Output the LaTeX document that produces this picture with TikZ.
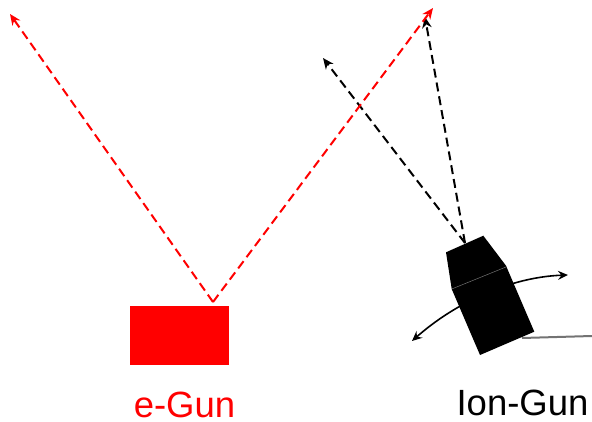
\documentclass[tikz,border=0pt]{standalone}
\usepackage{fontspec}
\setmainfont{Liberation Sans}
\usetikzlibrary{arrows.meta}
\definecolor{gunred}{RGB}{255,0,0}
\tikzset{
  beam/.style={dash pattern=on 9pt off 5pt,line width=2pt,-{Stealth[length=11pt,width=9.5pt,inset=3.5pt]}},
  turn/.style={line width=1.6pt,black,{Stealth[length=10pt,width=9pt,inset=3.5pt]}-{Stealth[length=10pt,width=9pt,inset=3.5pt]}},
  lab/.style={inner sep=0pt,anchor=base,font=\fontsize{36.5pt}{40pt}\selectfont}
}
\begin{document}
\begin{tikzpicture}[x=1pt,y=-1pt]
\useasboundingbox (0,0) rectangle (592,421);
\coordinate (eo) at (213,302);
\coordinate (e1) at (10,14);
\coordinate (e2) at (433,8);
\coordinate (io) at (465,243);
\coordinate (i1) at (323,58);
\coordinate (i2) at (425,17);
\coordinate (ta) at (412,341);
\coordinate (tb) at (568,275);
\coordinate (ca) at (522,338);
\coordinate (cb) at (592,336);
\node[fill=gunred,draw=none,inner sep=0pt,minimum width=99pt,minimum height=59pt] (egun) at (179.5,335) {};
\node[lab,text=gunred] (elab) at (184.5,417.5) {e-Gun};
\node[lab,text=black] (ilab) at (522.5,415) {Ion-Gun};
\draw[beam,black] (io) -- (i1);
\draw[beam,black] (io) -- (i2);
\draw[beam,gunred] (eo) -- (e1);
\draw[beam,gunred] (eo) -- (e2);
\draw[turn] (ta) .. controls (455,303) and (510,277) .. (tb);
\draw[line width=2pt,black!55] (ca) -- (cb);
\fill[black] (446,252.3) -- (483.3,235.7) -- (506,265.7) -- (534.3,331.7) -- (480,355) -- (451.7,289) -- cycle;
\draw[line width=0.5pt,black!55] (451.7,289) -- (506.7,266.7);
\end{tikzpicture}
\end{document}
